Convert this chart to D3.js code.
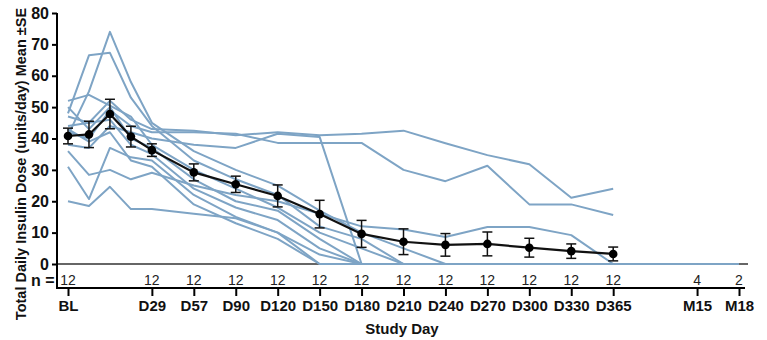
<!DOCTYPE html>
<html>
<head>
  <meta charset="utf-8">
  <script src="https://d3js.org/d3.v7.min.js"></script>
  <style>
    body { margin: 0; background: #fff; }
    text { font-family: "Liberation Sans", Arial, sans-serif; }
  </style>
</head>
<body>
<div id="chart"></div>
<script>
// visits (unlabelled ones sit between BL and D29)
var visits = ["BL","V1","V2","V3","D29","D57","D90","D120","D150","D180","D210","D240","D270","D300","D330","D365","M15","M18"];
var visitSlot = [0,0.5,1,1.5,2,3,4,5,6,7,8,9,10,11,12,13,15,16];
var tickLabels = ["BL","D29","D57","D90","D120","D150","D180","D210","D240","D270","D300","D330","D365","M15","M18"];
var nCounts = [12,12,12,12,12,12,12,12,12,12,12,12,12,4,2];

// group mean and SE, to D365
var meanDose = [40.8,41.3,47.8,40.6,36.3,29.2,25.4,21.7,15.9,9.6,7.1,6.1,6.4,5.2,4.1,3.2];
var seDose   = [2.5,4.2,4.7,3.3,2.0,2.7,2.6,3.5,4.4,4.3,4.1,3.6,3.8,3.0,2.3,2.2];

// individual participants
var p1  = [44,45,52,46,43,42.5,41,42,41,41.5,42.5,38.5,34.7,31.8,21.1,24,null,null];
var p2  = [42,40,49,44,42,42,41.5,38.6,38.6,38.6,30,26.4,31.3,19,19,15.6,null,null];
var p3  = [38,37,44,42,40,38,37,41.5,40.5,0,0,0,0,0,0,0,0,0];
var p4  = [36,28.4,30,27,29.1,25,22,20,16,12,11,8.6,11.8,11.8,9.2,0,0,0];
var p5  = [41,55,74,58,45,36,30,25,17,10,5,0,0,0,0,0,0,null];
var p6  = [48,66.5,67.3,53,44,33,27,22,12,8,0,0,0,0,0,0,0,null];
var p7  = [52,53.9,50.5,47,38,30,24,18,10,5,0,0,0,0,0,0,null,null];
var p8  = [50,43,50,40,37,27,20,17,8,0,0,0,0,0,0,0,null,null];
var p9  = [47,45,46,38,35,24,18,14,5,0,0,0,0,0,0,0,null,null];
var p10 = [31,20.7,37,34,33,22,15,10,3,0,0,0,0,0,0,0,null,null];
var p11 = [20,18.5,24.6,17.5,17.5,16,14.6,10,0,0,0,0,0,0,0,0,null,null];
var p12 = [43,39,42,33,31,19,13,8,0,0,0,0,0,0,0,0,null,null];
var patients = [p1,p2,p3,p4,p5,p6,p7,p8,p9,p10,p11,p12];

var width = 767, height = 340;

var svg = d3.select("#chart")
  .append("svg")
    .attr("width", width)
    .attr("height", height);

var slotOf = {};
visits.forEach(function(v, i) { slotOf[v] = visitSlot[i]; });

var x = d3.scaleLinear().domain([0, 16]).range([68, 739]);
var y = d3.scaleLinear().domain([0, 80]).range([264, 13]);

var axisX = 57, axisY = 288;

// zero reference line
svg.append("line")
  .attr("x1", axisX).attr("x2", 748)
  .attr("y1", y(0)).attr("y2", y(0))
  .attr("stroke", "#666").attr("stroke-width", 1.8);

// participant lines
var line = d3.line()
  .defined(function(d) { return d.v != null; })
  .x(function(d) { return x(d.s); })
  .y(function(d) { return y(d.v); });

svg.selectAll(".pt")
  .data(patients)
  .enter()
  .append("path")
    .attr("class", "pt")
    .attr("d", function(p) {
      return line(p.map(function(v, i) { return {s: visitSlot[i], v: v}; }));
    })
    .attr("fill", "none")
    .attr("stroke", "#7ea4c5")
    .attr("stroke-width", 2)
    .attr("stroke-linejoin", "round");

// mean line
var meanPts = meanDose.map(function(m, i) { return {s: visitSlot[i], v: m, se: seDose[i]}; });

svg.append("path")
  .attr("d", line(meanPts))
  .attr("fill", "none")
  .attr("stroke", "#111")
  .attr("stroke-width", 2.2);

var eb = svg.selectAll(".eb").data(meanPts).enter().append("g");
eb.append("line")
  .attr("x1", function(d) { return x(d.s); }).attr("x2", function(d) { return x(d.s); })
  .attr("y1", function(d) { return y(d.v + d.se); }).attr("y2", function(d) { return y(d.v - d.se); })
  .attr("stroke", "#111").attr("stroke-width", 1.5);
[1, -1].forEach(function(sg) {
  eb.append("line")
    .attr("x1", function(d) { return x(d.s) - 5; }).attr("x2", function(d) { return x(d.s) + 5; })
    .attr("y1", function(d) { return y(d.v + sg * d.se); }).attr("y2", function(d) { return y(d.v + sg * d.se); })
    .attr("stroke", "#111").attr("stroke-width", 1.5);
});
eb.append("circle")
  .attr("cx", function(d) { return x(d.s); })
  .attr("cy", function(d) { return y(d.v); })
  .attr("r", 4.3)
  .attr("fill", "#000");

// Y axis
var yAxis = svg.append("g")
  .attr("transform", "translate(" + axisX + ",0)")
  .call(d3.axisLeft(y).tickValues(d3.range(0, 81, 10)).tickSize(5).tickSizeOuter(0));
yAxis.select(".domain").remove();
yAxis.append("line")
  .attr("x1", 0).attr("x2", 0).attr("y1", y(80)).attr("y2", axisY + 1)
  .attr("stroke", "#000").attr("stroke-width", 2);
yAxis.selectAll(".tick line").attr("stroke", "#000").attr("stroke-width", 2);
yAxis.selectAll(".tick text")
  .attr("x", -8)
  .attr("font-size", 16).attr("font-weight", "bold")
  .attr("font-family", "Liberation Sans, Arial, sans-serif")
  .attr("fill", "#111");

// X axis
var xAxis = svg.append("g")
  .attr("transform", "translate(0," + axisY + ")")
  .call(d3.axisBottom(x)
    .tickValues(tickLabels.map(function(t) { return slotOf[t]; }))
    .tickFormat(function(d, i) { return tickLabels[i]; })
    .tickSize(8).tickSizeOuter(0));
xAxis.select(".domain").remove();
xAxis.append("line")
  .attr("x1", axisX - 1).attr("x2", 745).attr("y1", 0).attr("y2", 0)
  .attr("stroke", "#000").attr("stroke-width", 2);
xAxis.selectAll(".tick line").attr("stroke", "#000").attr("stroke-width", 2);
xAxis.selectAll(".tick text")
  .attr("y", 12)
  .attr("font-size", 15).attr("font-weight", "bold")
  .attr("font-family", "Liberation Sans, Arial, sans-serif")
  .attr("fill", "#111");

// n row
svg.append("text")
  .attr("x", 31).attr("y", 286)
  .attr("font-size", 16).attr("font-weight", "bold").attr("fill", "#111")
  .text("n =");
svg.selectAll(".nlab")
  .data(nCounts)
  .enter()
  .append("text")
    .attr("x", function(d, i) { return x(slotOf[tickLabels[i]]); })
    .attr("y", 285)
    .attr("text-anchor", "middle")
    .attr("font-size", 14).attr("fill", "#222")
    .text(function(d) { return d; });

// axis titles
svg.append("text")
  .attr("x", 402).attr("y", 334)
  .attr("text-anchor", "middle")
  .attr("font-size", 15).attr("font-weight", "bold").attr("fill", "#111")
  .text("Study Day");

svg.append("text")
  .attr("transform", "translate(26,164) rotate(-90)")
  .attr("text-anchor", "middle")
  .attr("font-size", 14.5).attr("font-weight", "bold").attr("fill", "#111")
  .text("Total Daily Insulin Dose (units/day) Mean \u00b1SE");
</script>
</body>
</html>
